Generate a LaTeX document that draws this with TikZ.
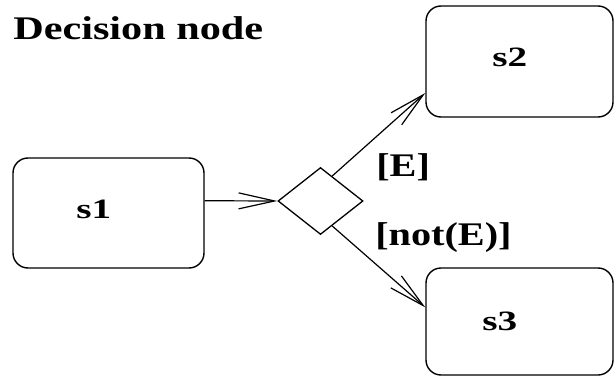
\documentclass[tikz,border=0pt]{standalone}
\usepackage{fontspec}
\setmainfont{Liberation Serif}
\usetikzlibrary{arrows.meta,shapes.geometric,calc}

\tikzset{
  state/.style={draw, line width=1.4pt, rounded corners=15pt, inner sep=0pt},
  choice/.style={draw, diamond, line width=1.3pt, inner sep=0pt},
  flow/.style={line width=1.2pt,
    -{Straight Barb[length=36pt,width=16pt,line width=1.2pt]}},
  heading/.style={anchor=base west, inner sep=0pt, xscale=1.28,
    font=\bfseries\fontsize{33}{38}\selectfont},
  guard/.style={anchor=base west, inner sep=0pt, xscale=1.22,
    font=\bfseries\fontsize{33}{38}\selectfont},
  statename/.style={anchor=base west, inner sep=0pt, xscale=1.4,
    font=\bfseries\fontsize{28}{32}\selectfont},
}

\begin{document}
\begin{tikzpicture}[x=1pt, y=-1pt]
  \useasboundingbox (0,0) rectangle (615,377);

  % title
  \node[heading] (title) at (13,39.5) {Decision node};

  % states
  \node[state, minimum width=191pt, minimum height=110pt] (s1) at (108.5,213) {};
  \node[state, minimum width=187pt, minimum height=111pt] (s2) at (519.5,61.5) {};
  \node[state, minimum width=187pt, minimum height=107pt] (s3) at (519.5,321.5) {};

  \node[statename] (n1) at (76,218) {s1};
  \node[statename] (n2) at (492,67) {s2};
  \node[statename] (n3) at (482,330) {s3};

  % decision diamond
  \node[choice, minimum width=85pt, minimum height=67pt] (d) at (320.5,201) {};

  % connectors
  \draw[flow] ($(s1.north east)!0.39!(s1.south east)$) -- (d.west);
  \draw[flow] ($(d.north)!0.27!(d.east)$) -- ($(s2.south west)!0.22!(s2.north west)$);
  \draw[flow] ($(d.south)!0.27!(d.east)$) -- ($(s3.north west)!0.37!(s3.south west)$);

  % guards
  \node[guard] (g1) at (376,176) {[E]};
  \node[guard] (g2) at (375,245) {[not(E)]};
\end{tikzpicture}
\end{document}
